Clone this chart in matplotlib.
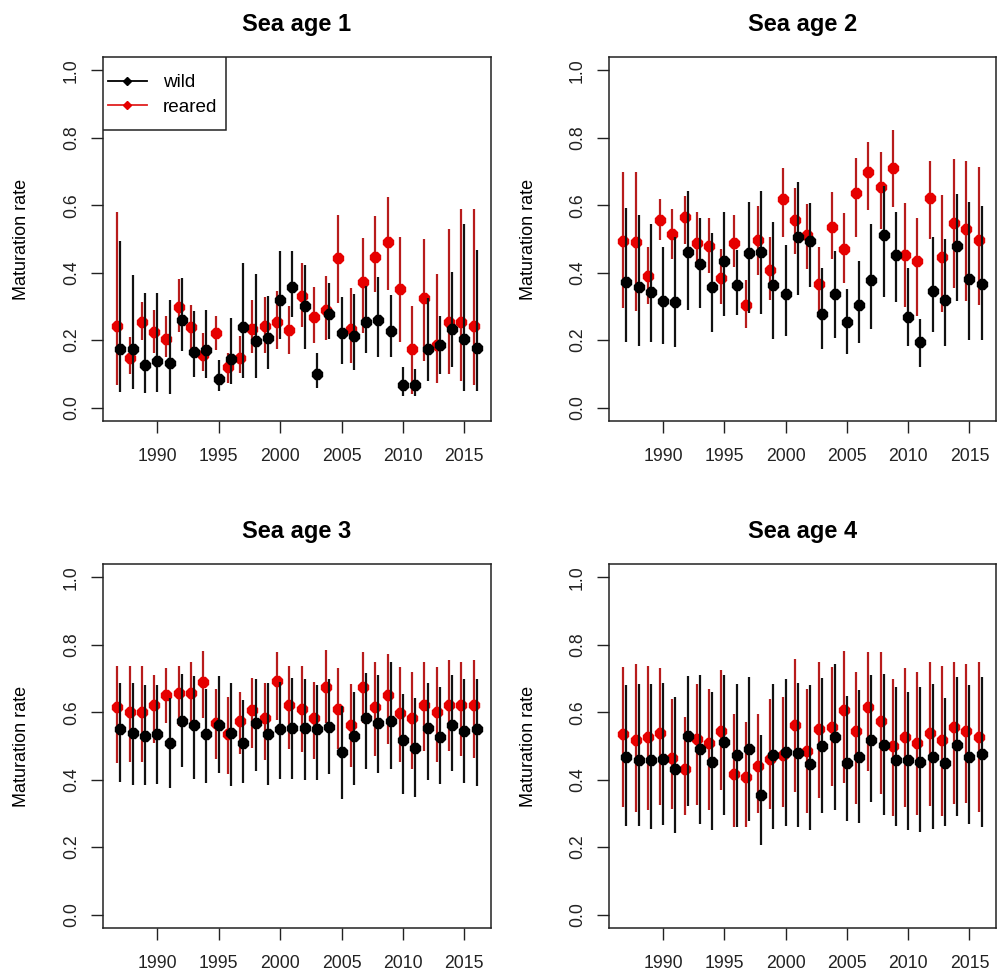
import matplotlib
matplotlib.use("Agg")
import matplotlib.pyplot as plt
from matplotlib.lines import Line2D
from matplotlib.patches import Rectangle
import numpy as np

plt.rcParams['font.family'] = ['Liberation Sans', 'DejaVu Sans']

years = list(range(1987, 2017))

# Sea age 1
wild1_mid = [0.175, 0.175, 0.127, 0.139, 0.132, 0.260, 0.165, 0.171, 0.085, 0.144, 0.238, 0.198, 0.206, 0.318, 0.359,
             0.300, 0.100, 0.278, 0.221, 0.212, 0.255, 0.260, 0.228, 0.068, 0.068, 0.175, 0.186, 0.234, 0.203, 0.176]
wild1_lo = [0.047, 0.056, 0.043, 0.045, 0.040, 0.169, 0.092, 0.087, 0.050, 0.069, 0.087, 0.089, 0.114, 0.204, 0.268,
            0.173, 0.057, 0.204, 0.130, 0.110, 0.163, 0.151, 0.151, 0.035, 0.035, 0.080, 0.099, 0.120, 0.050, 0.050]
wild1_hi = [0.495, 0.393, 0.339, 0.339, 0.319, 0.383, 0.285, 0.290, 0.141, 0.267, 0.428, 0.396, 0.331, 0.465, 0.465,
            0.422, 0.163, 0.369, 0.329, 0.337, 0.361, 0.387, 0.333, 0.119, 0.114, 0.324, 0.272, 0.402, 0.545, 0.468]
reared1_mid = [0.242, 0.147, 0.255, 0.225, 0.203, 0.297, 0.238, 0.156, 0.221, 0.120, 0.146, 0.232, 0.242, 0.255, 0.229,
               0.331, 0.268, 0.290, 0.443, 0.233, 0.372, 0.448, 0.490, 0.351, 0.175, 0.324, 0.185, 0.255, 0.255, 0.243]
reared1_lo = [0.067, 0.099, 0.201, 0.161, 0.149, 0.223, 0.161, 0.107, 0.171, 0.072, 0.102, 0.161, 0.161, 0.173, 0.160,
              0.240, 0.191, 0.201, 0.310, 0.132, 0.221, 0.344, 0.349, 0.193, 0.041, 0.139, 0.072, 0.100, 0.080, 0.067]
reared1_hi = [0.579, 0.208, 0.312, 0.290, 0.272, 0.381, 0.304, 0.221, 0.272, 0.161, 0.211, 0.319, 0.329, 0.347, 0.300,
              0.428, 0.359, 0.391, 0.572, 0.356, 0.502, 0.567, 0.624, 0.507, 0.302, 0.500, 0.396, 0.531, 0.589, 0.589]

# Sea age 2
wild2_mid = [0.371, 0.358, 0.344, 0.317, 0.313, 0.462, 0.425, 0.359, 0.435, 0.363, 0.457, 0.462, 0.363, 0.336, 0.507,
             0.493, 0.277, 0.336, 0.255, 0.305, 0.377, 0.511, 0.452, 0.270, 0.193, 0.346, 0.319, 0.480, 0.381, 0.367]
wild2_lo = [0.195, 0.183, 0.195, 0.188, 0.179, 0.290, 0.296, 0.223, 0.272, 0.275, 0.280, 0.277, 0.204, 0.211, 0.333,
            0.357, 0.173, 0.205, 0.159, 0.191, 0.232, 0.329, 0.312, 0.184, 0.120, 0.223, 0.183, 0.317, 0.201, 0.201]
wild2_hi = [0.593, 0.571, 0.544, 0.476, 0.507, 0.641, 0.561, 0.517, 0.580, 0.467, 0.611, 0.641, 0.551, 0.481, 0.670,
            0.606, 0.413, 0.463, 0.351, 0.436, 0.545, 0.656, 0.579, 0.413, 0.262, 0.507, 0.500, 0.633, 0.611, 0.598]
reared2_mid = [0.494, 0.490, 0.389, 0.556, 0.516, 0.565, 0.489, 0.480, 0.385, 0.489, 0.304, 0.498, 0.408, 0.618, 0.556,
               0.513, 0.367, 0.537, 0.470, 0.636, 0.698, 0.655, 0.712, 0.452, 0.435, 0.622, 0.448, 0.547, 0.529, 0.498]
reared2_lo = [0.295, 0.285, 0.307, 0.496, 0.442, 0.486, 0.418, 0.399, 0.308, 0.418, 0.237, 0.394, 0.318, 0.507, 0.455,
              0.410, 0.272, 0.441, 0.369, 0.505, 0.586, 0.530, 0.594, 0.298, 0.272, 0.500, 0.282, 0.356, 0.316, 0.303]
reared2_hi = [0.700, 0.700, 0.476, 0.620, 0.589, 0.629, 0.580, 0.561, 0.470, 0.571, 0.379, 0.597, 0.507, 0.710, 0.652,
              0.605, 0.476, 0.638, 0.576, 0.741, 0.789, 0.758, 0.822, 0.606, 0.562, 0.732, 0.630, 0.737, 0.732, 0.715]

# Sea age 3
wild3_mid = [0.549, 0.540, 0.530, 0.535, 0.508, 0.574, 0.562, 0.536, 0.562, 0.540, 0.508, 0.567, 0.535, 0.549, 0.552,
             0.552, 0.549, 0.557, 0.482, 0.530, 0.584, 0.567, 0.575, 0.517, 0.495, 0.552, 0.527, 0.562, 0.544, 0.549]
wild3_lo = [0.394, 0.384, 0.384, 0.388, 0.376, 0.439, 0.403, 0.389, 0.421, 0.381, 0.389, 0.426, 0.384, 0.403, 0.403,
            0.399, 0.399, 0.416, 0.342, 0.384, 0.433, 0.421, 0.433, 0.358, 0.349, 0.399, 0.388, 0.426, 0.389, 0.381]
wild3_hi = [0.688, 0.688, 0.680, 0.680, 0.641, 0.715, 0.708, 0.670, 0.708, 0.688, 0.636, 0.698, 0.688, 0.690, 0.703,
            0.698, 0.680, 0.698, 0.619, 0.661, 0.716, 0.711, 0.750, 0.653, 0.641, 0.688, 0.675, 0.711, 0.698, 0.698]
reared3_mid = [0.616, 0.602, 0.601, 0.621, 0.651, 0.656, 0.656, 0.691, 0.569, 0.535, 0.575, 0.606, 0.584, 0.693, 0.621,
               0.611, 0.584, 0.675, 0.611, 0.562, 0.675, 0.616, 0.651, 0.599, 0.584, 0.621, 0.602, 0.621, 0.621, 0.621]
reared3_lo = [0.449, 0.452, 0.452, 0.508, 0.569, 0.559, 0.559, 0.584, 0.460, 0.416, 0.475, 0.495, 0.458, 0.576, 0.492,
              0.483, 0.462, 0.569, 0.492, 0.439, 0.569, 0.470, 0.507, 0.452, 0.433, 0.485, 0.452, 0.485, 0.470, 0.465]
reared3_hi = [0.738, 0.738, 0.738, 0.711, 0.730, 0.738, 0.748, 0.782, 0.670, 0.644, 0.660, 0.703, 0.688, 0.779, 0.738,
              0.736, 0.690, 0.784, 0.730, 0.685, 0.779, 0.748, 0.774, 0.735, 0.720, 0.748, 0.733, 0.755, 0.750, 0.755]

# Sea age 4
wild4_mid = [0.467, 0.458, 0.458, 0.462, 0.431, 0.530, 0.490, 0.453, 0.512, 0.472, 0.490, 0.355, 0.472, 0.481, 0.478,
             0.446, 0.499, 0.526, 0.450, 0.467, 0.517, 0.503, 0.458, 0.458, 0.454, 0.467, 0.450, 0.503, 0.467, 0.476]
wild4_lo = [0.264, 0.264, 0.255, 0.267, 0.243, 0.322, 0.269, 0.250, 0.295, 0.260, 0.277, 0.206, 0.255, 0.264, 0.260,
            0.250, 0.300, 0.310, 0.277, 0.272, 0.335, 0.295, 0.264, 0.250, 0.246, 0.255, 0.264, 0.292, 0.269, 0.260]
wild4_hi = [0.680, 0.685, 0.685, 0.688, 0.644, 0.708, 0.711, 0.661, 0.711, 0.685, 0.706, 0.532, 0.685, 0.698, 0.688,
            0.680, 0.703, 0.743, 0.649, 0.665, 0.711, 0.715, 0.676, 0.661, 0.676, 0.685, 0.642, 0.706, 0.680, 0.706]
reared4_mid = [0.535, 0.517, 0.526, 0.540, 0.463, 0.432, 0.522, 0.508, 0.545, 0.418, 0.408, 0.441, 0.462, 0.472, 0.562,
               0.485, 0.549, 0.557, 0.607, 0.544, 0.616, 0.575, 0.499, 0.526, 0.508, 0.540, 0.517, 0.557, 0.544, 0.526]
reared4_lo = [0.319, 0.304, 0.310, 0.324, 0.314, 0.295, 0.324, 0.309, 0.368, 0.260, 0.260, 0.302, 0.314, 0.319, 0.363,
              0.302, 0.347, 0.381, 0.391, 0.327, 0.426, 0.358, 0.292, 0.319, 0.295, 0.322, 0.292, 0.327, 0.332, 0.305]
reared4_hi = [0.735, 0.743, 0.738, 0.730, 0.639, 0.586, 0.685, 0.670, 0.726, 0.594, 0.571, 0.594, 0.639, 0.644, 0.757,
              0.670, 0.750, 0.733, 0.782, 0.720, 0.779, 0.779, 0.698, 0.730, 0.720, 0.748, 0.738, 0.750, 0.743, 0.750]

titles = ["Sea age 1", "Sea age 2", "Sea age 3", "Sea age 4"]
yticks = [0.0, 0.2, 0.4, 0.6, 0.8, 1.0]
xticks = [1990, 1995, 2000, 2005, 2010, 2015]

panels = [
    (wild1_mid, wild1_lo, wild1_hi, reared1_mid, reared1_lo, reared1_hi),
    (wild2_mid, wild2_lo, wild2_hi, reared2_mid, reared2_lo, reared2_hi),
    (wild3_mid, wild3_lo, wild3_hi, reared3_mid, reared3_lo, reared3_hi),
    (wild4_mid, wild4_lo, wild4_hi, reared4_mid, reared4_lo, reared4_hi),
]

W, H = 997, 976
fig = plt.figure(figsize=(W / 100, H / 100), dpi=100)

# axes boxes in pixels: left, top, width, height
boxes = [(103, 57, 388, 364), (609, 57, 387, 364), (103, 564, 388, 364), (609, 564, 387, 364)]

RED_BAR = "#b81c1c"
RED_PT = "#e60000"
BLK = "#111111"

for i, (box, data) in enumerate(zip(boxes, panels)):
    l, t, w, h = box
    ax = fig.add_axes([l / W, 1 - (t + h) / H, w / W, h / H])
    wm, wl, wh, rm, rl, rh = [np.array(a) for a in data]
    yr = np.array(years)
    xr = yr - 0.25
    ax.vlines(xr, rl, rh, color=RED_BAR, lw=1.6, zorder=2)
    ax.plot(xr, rm, '8', color=RED_PT, ms=8, mec=RED_PT, zorder=3)
    ax.vlines(yr, wl, wh, color=BLK, lw=1.6, zorder=4)
    ax.plot(yr, wm, '8', color="black", ms=8, mec="black", zorder=5)

    ax.set_xlim(1985.58, 2017.17)
    ax.set_ylim(-0.04, 1.04)
    ax.set_xticks(xticks)
    ax.set_yticks(yticks)
    ax.set_yticklabels(["%.1f" % v for v in yticks], rotation=90, va="center")
    ax.tick_params(direction="out", length=8.6, width=1.0, labelsize=12.7, colors="#222222")
    ax.tick_params(axis="x", pad=11)
    ax.tick_params(axis="y", pad=8)
    for s in ax.spines.values():
        s.set_linewidth(1.1)
        s.set_color("#222222")
    ax.set_title(titles[i], fontsize=17, fontweight="bold", pad=19)
    ax.set_ylabel("Maturation rate", fontsize=13)
    ax.yaxis.set_label_coords(-0.187, 0.5)

    if i == 0:
        # legend box drawn as its own frame, entries placed inside it
        ax.add_patch(Rectangle((0, 1 - 73 / h), 123 / w, 73 / h, transform=ax.transAxes,
                               fill=True, facecolor="white", edgecolor="#222222", lw=1.1, zorder=6))
        handles = [Line2D([0], [0], color="black", marker="D", ms=4.5, lw=1.3),
                   Line2D([0], [0], color="#e02020", marker="D", ms=4.5, lw=1.3, mfc=RED_PT, mec=RED_PT)]
        leg = ax.legend(handles, ["wild", "reared"], loc="upper left", fontsize=13.6, frameon=False,
                        bbox_to_anchor=(5 / w, 1 - 17 / h), borderaxespad=0, borderpad=0,
                        handlelength=2.05, handletextpad=0.85, labelspacing=0.38)
        leg.set_zorder(7)

fig.savefig("out.png", dpi=100)
